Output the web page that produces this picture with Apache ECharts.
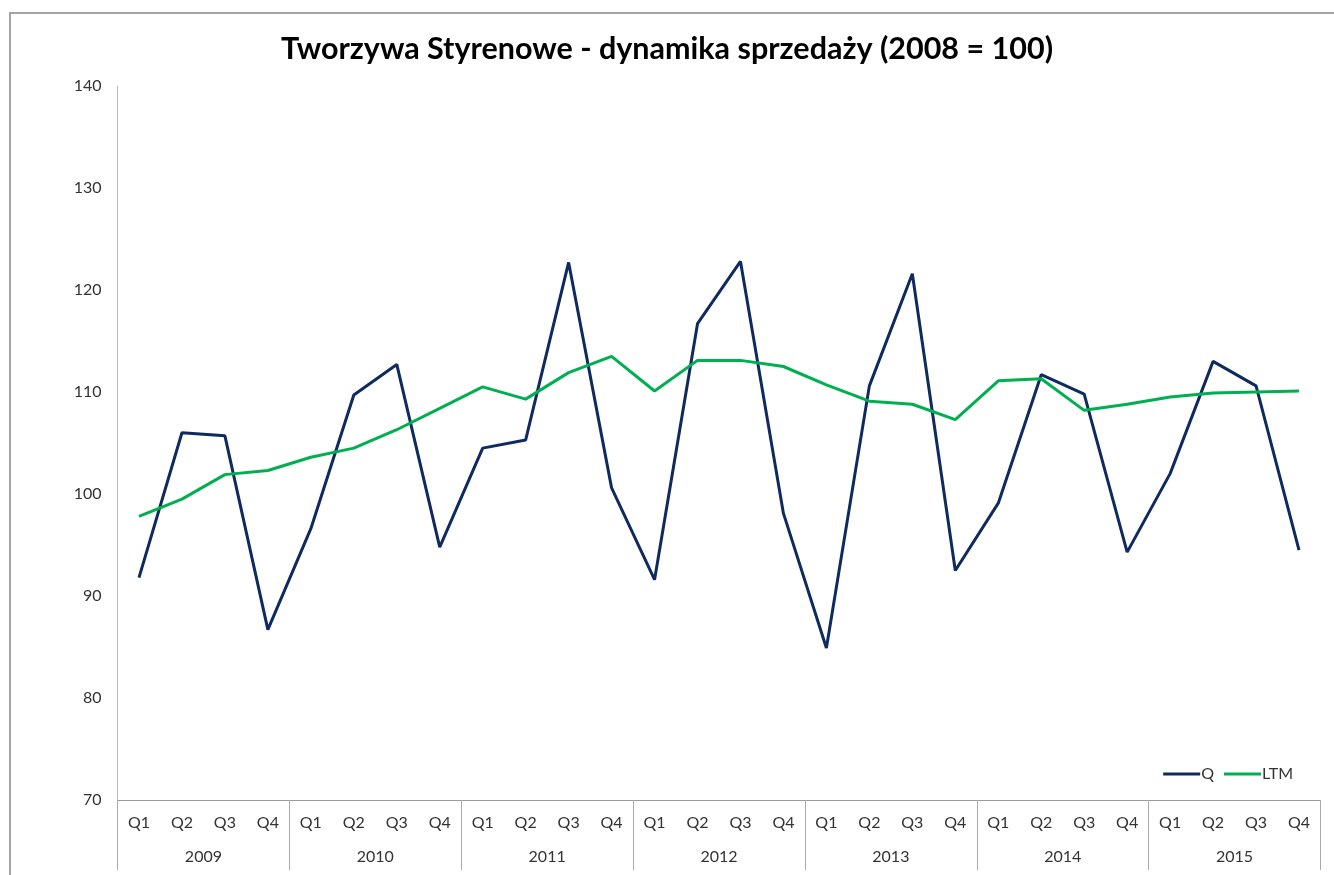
<!DOCTYPE html>
<html>
<head>
<meta charset="utf-8">
<script src="https://cdn.jsdelivr.net/npm/echarts@6/dist/echarts.min.js"></script>
<style>
  html, body { margin: 0; padding: 0; background: #fff; }
  #chart { width: 1334px; height: 875px; }
</style>
</head>
<body>
<div id="chart"></div>
<script>
  // kwartały i lata (oś X w dwóch poziomach)
  const quarters = [
    'Q1','Q2','Q3','Q4','Q1','Q2','Q3','Q4','Q1','Q2','Q3','Q4','Q1','Q2',
    'Q3','Q4','Q1','Q2','Q3','Q4','Q1','Q2','Q3','Q4','Q1','Q2','Q3','Q4'
  ];
  const years = ['2009','2010','2011','2012','2013','2014','2015'];

  // dynamika kwartalna
  const qValues = [
    91.8, 106.0, 105.7, 86.7,
    96.6, 109.7, 112.7, 94.8,
    104.5, 105.3, 122.7, 100.6,
    91.6, 116.7, 122.8, 98.1,
    84.9, 110.6, 121.6, 92.5,
    99.1, 111.7, 109.8, 94.3,
    102.0, 113.0, 110.6, 94.5
  ];
  // ostatnie 12 miesięcy
  const ltmValues = [
    97.8, 99.5, 101.9, 102.3,
    103.6, 104.5, 106.3, 108.4,
    110.5, 109.3, 111.9, 113.5,
    110.1, 113.1, 113.1, 112.5,
    110.7, 109.1, 108.8, 107.3,
    111.1, 111.3, 108.2, 108.8,
    109.5, 109.9, 110.0, 110.1
  ];

  const chart = echarts.init(document.getElementById('chart'));
  const font = 'Lato, "Noto Sans", sans-serif';

  const option = {
    backgroundColor: '#fff',
    animation: false,
    textStyle: { fontFamily: font },
    title: {
      text: 'Tworzywa Styrenowe - dynamika sprzedaży (2008 = 100)',
      left: 'center',
      top: 29,
      textStyle: { fontFamily: font, fontSize: 30.5, fontWeight: 'bold', color: '#000' }
    },
    // ramka wykresu (lewa i górna krawędź)
    graphic: [{
      type: 'rect',
      shape: { x: 10, y: 13, width: 1400, height: 900 },
      style: { fill: 'none', stroke: '#868686', lineWidth: 1.5 },
      silent: true
    }],
    legend: {
      right: 36,
      top: 761,
      itemWidth: 37,
      itemHeight: 3,
      itemGap: 10,
      icon: 'rect',
      textStyle: { fontFamily: font, fontSize: 16, color: '#333', padding: [0, 0, 0, -4] },
      data: ['Q', 'LTM']
    },
    grid: { left: 117.5, right: 13.5, top: 86, bottom: 75 },
    xAxis: [
      {
        type: 'category',
        data: quarters,
        position: 'bottom',
        axisLine: { lineStyle: { color: '#999', width: 1 } },
        axisTick: { show: false },
        axisLabel: { color: '#333', fontSize: 16, margin: 15, interval: 0 }
      },
      {
        type: 'category',
        data: years,
        position: 'bottom',
        axisLine: { show: false },
        axisTick: { show: true, length: 70, lineStyle: { color: '#aaa' } },
        axisLabel: { color: '#333', fontSize: 16, margin: 49, interval: 0 },
        splitLine: { show: false }
      }
    ],
    yAxis: {
      type: 'value',
      min: 70,
      max: 140,
      interval: 10,
      axisLine: { show: true, lineStyle: { color: '#bbb', width: 1 } },
      axisTick: { show: false },
      splitLine: { show: false },
      axisLabel: { color: '#333', fontSize: 16, margin: 16 }
    },
    series: [
      {
        name: 'Q',
        type: 'line',
        data: qValues,
        symbol: 'none',
        lineStyle: { color: '#0E2A5E', width: 3 },
        itemStyle: { color: '#0E2A5E' }
      },
      {
        name: 'LTM',
        type: 'line',
        data: ltmValues,
        symbol: 'none',
        lineStyle: { color: '#00B050', width: 3 },
        itemStyle: { color: '#00B050' }
      }
    ]
  };

  chart.setOption(option);
</script>
</body>
</html>
